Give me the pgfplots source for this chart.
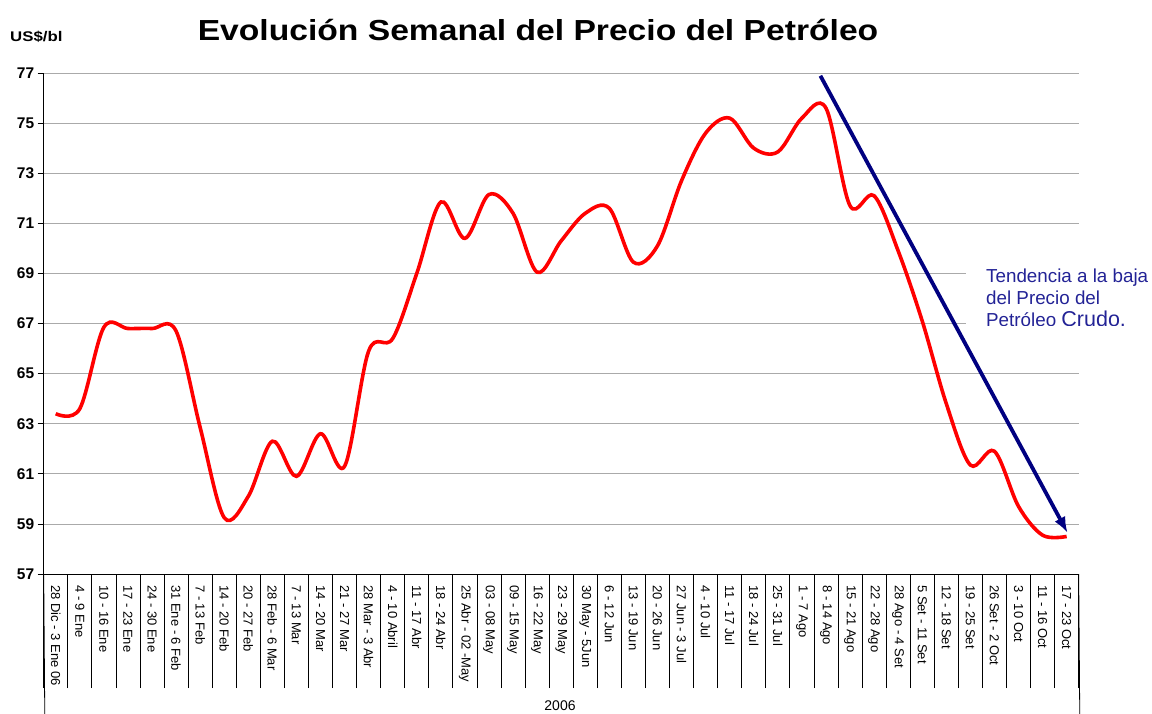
\documentclass[border=0pt]{standalone}
\usepackage{pgfplots}
\pgfplotsset{compat=1.18}
\usepackage{graphicx}
\usepackage{fontspec}
\setmainfont{Liberation Sans}
\usetikzlibrary{arrows.meta}
\definecolor{navyarrow}{RGB}{0,0,128}
\definecolor{navytext}{RGB}{35,35,150}
\definecolor{gridgray}{RGB}{170,170,170}

\pgfplotstableread{
x y
0 63.4
1 63.6
2 66.85
3 66.8
4 66.8
5 66.7
6 62.85
7 59.25
8 60.1
9 62.3
10 60.9
11 62.6
12 61.3
13 65.9
14 66.4
15 69.0
16 71.85
17 70.4
18 72.15
19 71.4
20 69.05
21 70.3
22 71.4
23 71.6
24 69.45
25 70.1
26 72.7
27 74.6
28 75.2
29 74.0
30 73.85
31 75.2
32 75.6
33 71.7
34 72.1
35 69.9
36 67.1
37 63.8
38 61.35
39 61.9
40 59.7
41 58.55
42 58.5
}\precio

\begin{document}
\begin{tikzpicture}[x=1pt,y=1pt]
\path[use as bounding box] (0,0) rectangle (1152,713);
\begin{axis}[
  at={(43.7pt,139pt)}, anchor=south west,
  scale only axis, width=1035pt, height=501pt,
  xmin=-0.5, xmax=42.5, ymin=57, ymax=77,
  clip=false,
  axis x line=bottom, axis y line=left,
  axis line style={-, black, line width=0.8pt},
  ytick={57,59,...,77},
  ymajorgrids,
  grid style={gridgray, line width=0.7pt},
  tick align=outside,
  ytick style={black, line width=0.8pt},
  major tick length=6pt,
  /pgf/number format/assume math mode=true,
  yticklabel style={font=\fontsize{15.5}{15.5}\selectfont\bfseries},
  xtick={0,...,42},
  xtick style={draw=none},
  xticklabels={28 Dic - 3 Ene 06,4 - 9 Ene,10 - 16 Ene,17 - 23 Ene,24 - 30 Ene,31 Ene - 6 Feb,7 - 13 Feb,14 - 20 Feb,20 - 27 Feb,28 Feb - 6 Mar,7 - 13 Mar,14 - 20 Mar,21 - 27 Mar,28 Mar - 3 Abr,4 - 10 Abril,11 - 17 Abr,18 - 24 Abr,25 Abr - 02 -May,03 - 08 May,09 - 15 May,16 - 22 May,23 - 29 May,30 May - 5Jun,6 - 12 Jun,13 - 19 Jun,20 - 26 Jun,27 Jun - 3 Jul,4 - 10 Jul,11 - 17 Jul,18 - 24 Jul,25 - 31 Jul,1 - 7 Ago,8 - 14 Ago,15 - 21 Ago,22 - 28 Ago,28 Ago - 4 Set,5 Set - 11 Set,12 - 18 Set,19 - 25 Set,26 Set - 2 Oct,3 - 10 Oct,11 - 16 Oct,17 - 23 Oct},
  xticklabel style={yshift=-5pt, rotate=-90, anchor=west, font=\fontsize{13}{13}\selectfont, inner sep=0pt},
  extra x ticks={-0.5,0.5,...,42.5},
  extra x tick labels={},
  extra x tick style={grid=none, tick align=outside, major tick length=114pt, xtick style={draw=black, line width=0.8pt}},
]
\addplot[red, line width=3.6pt, smooth, tension=0.55] table[x=x,y=y] {\precio};
\addplot[navyarrow, line width=3.8pt, -{Latex[length=16pt,width=12pt]}] coordinates {(31.77,76.89) (42.04,58.64)};
\draw[black, line width=0.8pt] (axis cs:-0.5,57) -- ++(0,-139pt);
\draw[black, line width=0.8pt] (axis cs:42.5,57) -- ++(0,-139pt);
\end{axis}
\node[font=\fontsize{29}{29}\selectfont\bfseries] at (538,683) {\scalebox{1.16}[1]{Evolución Semanal del Precio del Petróleo}};
\node[anchor=west, inner sep=0pt, font=\fontsize{14}{14}\selectfont\bfseries] at (10,676) {\scalebox{1.2}[1]{US\$/bl}};
\node[font=\fontsize{14}{14}\selectfont] at (560,7) {2006};
\begin{scope}
\clip (966,387) rectangle (1152,456);
\fill[white] (966,387) rectangle (1152,456);
\node[anchor=base west, inner sep=0pt, text=navytext, font=\fontsize{18.8}{18.8}\selectfont] at (986,430.3) {Tendencia a la baja};
\node[anchor=base west, inner sep=0pt, text=navytext, font=\fontsize{18.8}{18.8}\selectfont] at (986,408.7) {del Precio del};
\node[anchor=base west, inner sep=0pt, text=navytext, font=\fontsize{18.8}{18.8}\selectfont] at (986,386.3) {Petróleo {\fontsize{21.5}{21.5}\selectfont Crudo.}};
\end{scope}
\end{tikzpicture}
\end{document}
